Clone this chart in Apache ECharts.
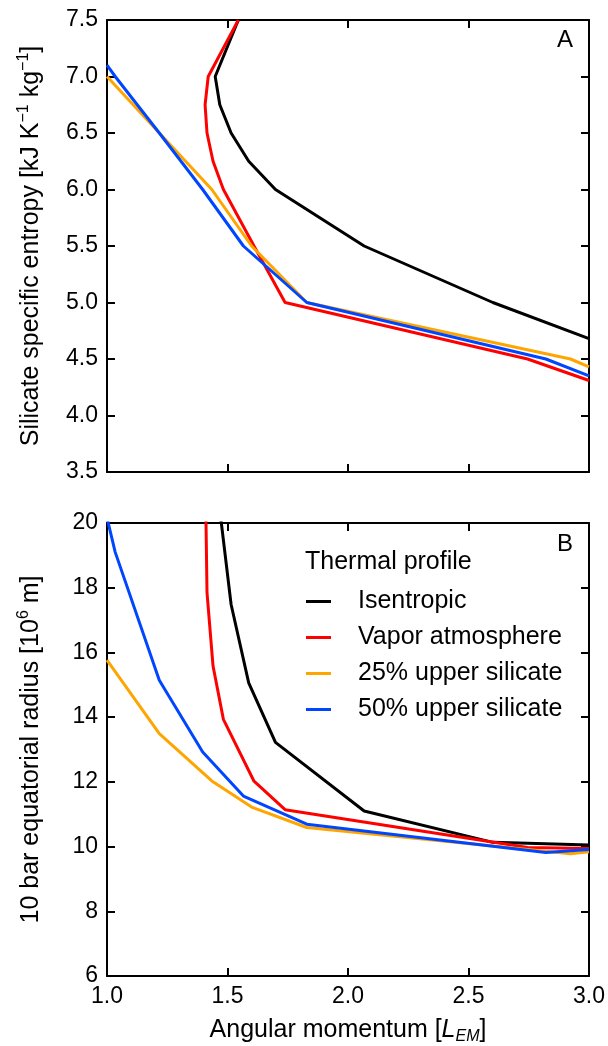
<!DOCTYPE html>
<html>
<head>
<meta charset="utf-8">
<script src="https://cdn.jsdelivr.net/npm/echarts@6/dist/echarts.min.js"></script>
<style>
  html, body { margin: 0; padding: 0; background: #fff; }
  #main { width: 608px; height: 1046px; }
</style>
</head>
<body>
<div id="main"></div>
<script>
// angular momentum L [L_EM], specific entropy S [kJ/K/kg], 10 bar equatorial radius R [10^6 m]
const isenL = [1.545, 1.449, 1.468, 1.515, 1.588, 1.699, 2.067, 2.601, 3.0]
const isenS = [7.5, 7.0, 6.75, 6.5, 6.25, 6.0, 5.5, 5.0, 4.68]
const isenR = [null, null, 20.4, 17.48, 15.06, 13.22, 11.10, 10.13, 10.05]

const vaporL = [1.545, 1.42, 1.407, 1.415, 1.44, 1.483, 1.61, 1.739, 2.745, 3.0]
const vaporS = [7.5, 7.0, 6.75, 6.5, 6.25, 6.0, 5.5, 5.0, 4.5, 4.31]
const vaporR = [null, null, 22.0, 17.85, 15.58, 13.93, 12.02, 11.14, 9.97, 9.94]

const sil25L = [1.0, 1.217, 1.435, 1.60, 1.829, 2.923, 3.0]
const sil25S = [7.0, 6.5, 6.0, 5.5, 5.0, 4.5, 4.43]
const sil25R = [15.76, 13.49, 12.03, 11.22, 10.59, 9.78, 9.84]

const sil50L = [1.0, 1.034, 1.217, 1.397, 1.566, 1.829, 2.821, 3.0]
const sil50S = [7.10, 7.0, 6.5, 6.0, 5.5, 5.0, 4.5, 4.35]
const sil50R = [20.16, 19.10, 15.14, 12.92, 11.56, 10.69, 9.82, 9.91]

const names = ['Isentropic', 'Vapor atmosphere', '25% upper silicate', '50% upper silicate']
const colors = ['#000000', '#ff0000', '#ffa500', '#0046ff']

const FONT = '"Liberation Sans", Arial, Helvetica, sans-serif'

function pairs(xs, ys) {
  return xs.map((x, i) => [x, ys[i]])
}

function axisBase(grid, pos, showLabel) {
  return {
    type: 'value',
    gridIndex: grid,
    position: pos,
    axisLine: { show: true, onZero: false, lineStyle: { color: '#000', width: 2 } },
    axisTick: { show: true, inside: true, length: 8, lineStyle: { color: '#000', width: 2 } },
    splitLine: { show: false },
    axisLabel: {
      show: !!showLabel,
      color: '#000',
      fontFamily: FONT,
      fontSize: 23,
      margin: 9,
      showMinLabel: true,
      showMaxLabel: true,
      formatter: v => showLabel === 'int' ? String(v) : v.toFixed(1)
    }
  }
}

function xAx(grid, pos, showLabel) {
  return Object.assign(axisBase(grid, pos, showLabel), { min: 1, max: 3, interval: 0.5 })
}

function yAx(grid, pos, showLabel, min, max, interval) {
  return Object.assign(axisBase(grid, pos, showLabel), { min: min, max: max, interval: interval })
}

function lineSeries(name, color, data, xi, yi) {
  return {
    name: name,
    type: 'line',
    data: data,
    xAxisIndex: xi,
    yAxisIndex: yi,
    symbol: 'none',
    clip: true,
    lineStyle: { color: color, width: 3 },
    itemStyle: { color: color }
  }
}

function draw() {
  const myChart = echarts.init(document.getElementById('main'))

  const xBottom = xAx(1, 'bottom', true)
  xBottom.name = 'Angular momentum [{i|L}{sub|EM}]'
  xBottom.nameLocation = 'middle'
  xBottom.nameGap = 39
  xBottom.nameTextStyle = {
    color: '#000', fontFamily: FONT, fontSize: 25, lineHeight: 30,
    rich: {
      i: { fontFamily: FONT, fontSize: 25, fontStyle: 'italic', color: '#000' },
      sub: { fontFamily: FONT, fontSize: 16, fontStyle: 'italic', color: '#000', verticalAlign: 'bottom', lineHeight: 16 }
    }
  }

  const supRich = { sup: { fontFamily: FONT, fontSize: 16, color: '#000', verticalAlign: 'top', lineHeight: 16 } }

  const yTop = yAx(0, 'left', true, 3.5, 7.5, 0.5)
  yTop.name = 'Silicate specific entropy [kJ K{sup|−1} kg{sup|−1}]'
  yTop.nameLocation = 'middle'
  yTop.nameGap = 61
  yTop.nameTextStyle = { color: '#000', fontFamily: FONT, fontSize: 25, lineHeight: 30, rich: supRich }

  const yBot = yAx(1, 'left', 'int', 6, 20, 2)
  yBot.name = '10 bar equatorial radius [10{sup|6} m]'
  yBot.nameLocation = 'middle'
  yBot.nameGap = 61
  yBot.nameTextStyle = { color: '#000', fontFamily: FONT, fontSize: 25, lineHeight: 30, rich: supRich }

  const topData = [pairs(isenL, isenS), pairs(vaporL, vaporS), pairs(sil25L, sil25S), pairs(sil50L, sil50S)]
  const botData = [pairs(isenL, isenR), pairs(vaporL, vaporR), pairs(sil25L, sil25R), pairs(sil50L, sil50R)]

  const series = []
  names.forEach((n, i) => series.push(lineSeries(n, colors[i], topData[i], 0, 0)))
  names.forEach((n, i) => series.push(lineSeries(n, colors[i], botData[i], 2, 2)))

  const letterStyle = { fontFamily: FONT, fontSize: 24, fontWeight: 'normal', color: '#000' }

  const option = {
    animation: false,
    backgroundColor: '#fff',
    title: [
      { text: 'A', right: 30, top: 23, textStyle: letterStyle },
      { text: 'B', right: 30, top: 527, textStyle: letterStyle },
      { text: 'Thermal profile', left: 300, top: 545, textStyle: { fontFamily: FONT, fontSize: 25, fontWeight: 'normal', color: '#000' } }
    ],
    legend: {
      data: names,
      orient: 'vertical',
      left: 301,
      top: 584,
      icon: 'rect',
      itemWidth: 25,
      itemHeight: 3,
      itemGap: 11,
      textStyle: { fontFamily: FONT, fontSize: 25, lineHeight: 25, color: '#000', padding: [0, 0, 0, 22] }
    },
    grid: [
      { left: 107, right: 19, top: 20, height: 452 },
      { left: 107, right: 19, top: 523, height: 453 }
    ],
    xAxis: [
      xAx(0, 'bottom', false),
      xAx(0, 'top', false),
      xBottom,
      xAx(1, 'top', false)
    ],
    yAxis: [
      yTop,
      yAx(0, 'right', false, 3.5, 7.5, 0.5),
      yBot,
      yAx(1, 'right', false, 6, 20, 2)
    ],
    series: series
  }
  myChart.setOption(option)
}

window.onload = draw
</script>
</body>
</html>
